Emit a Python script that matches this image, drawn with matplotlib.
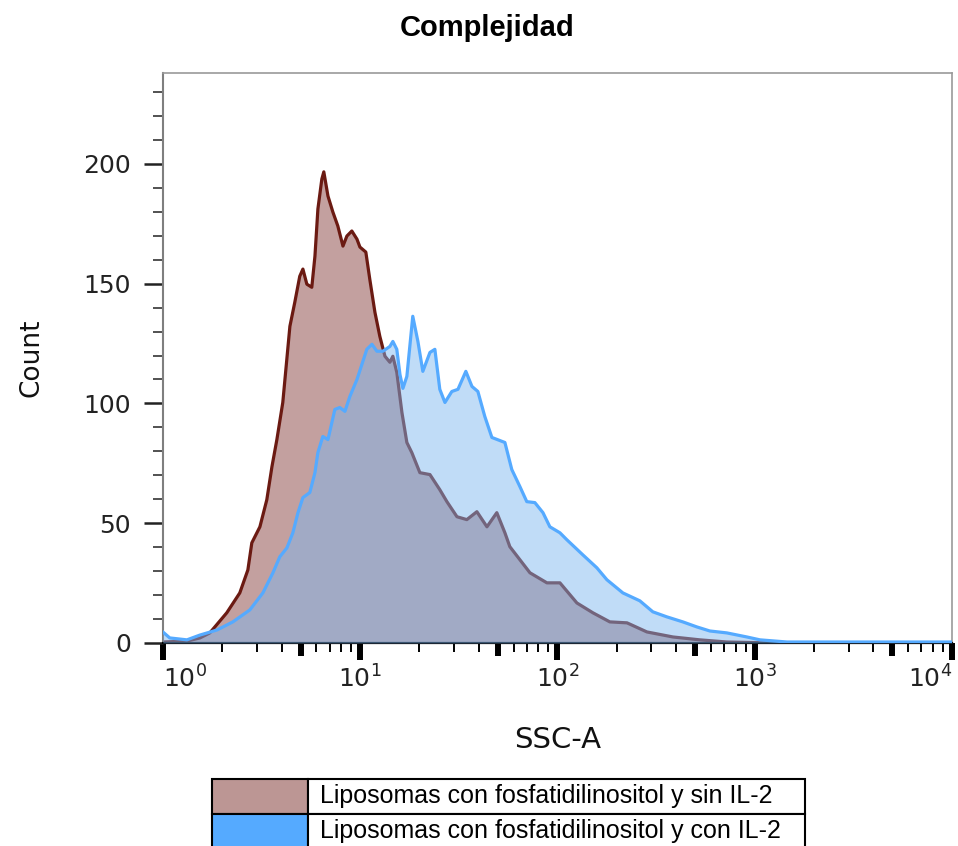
import numpy as np
import matplotlib.pyplot as plt
from matplotlib.ticker import LogLocator, MultipleLocator, NullFormatter, FixedLocator

title = "Complejidad"
labels = ["Liposomas con fosfatidilinositol y sin IL-2",
          "Liposomas con fosfatidilinositol y con IL-2"]

# SSC-A given in decades (log10), counts
log_ssc_sin = [0.000, 0.122, 0.188, 0.238, 0.324, 0.390, 0.431, 0.451, 0.492, 0.527,
               0.553, 0.578, 0.608, 0.644, 0.669, 0.694, 0.710, 0.730, 0.755, 0.771,
               0.786, 0.806, 0.816, 0.837, 0.862, 0.887, 0.913, 0.933, 0.958, 0.984,
               0.999, 1.029, 1.049, 1.075, 1.100, 1.126, 1.151, 1.166, 1.186, 1.212,
               1.237, 1.262, 1.303, 1.354, 1.404, 1.440, 1.491, 1.541, 1.592, 1.643,
               1.693, 1.734, 1.759, 1.861, 1.947, 2.013, 2.099, 2.180, 2.266, 2.353,
               2.454, 2.586, 2.722, 2.859, 3.093, 4.000]
count_sin = [0.4, 0.8, 2.1, 4.2, 12.6, 20.9, 30.5, 41.8, 48.5, 59.8,
             73.6, 84.9, 100.4, 132.2, 142.3, 153.1, 156.1, 149.8, 148.5, 161.5,
             181.2, 193.7, 196.7, 186.6, 179.9, 174.1, 165.7, 169.9, 172.0, 168.6,
             165.3, 163.2, 151.9, 138.1, 128.0, 119.7, 117.2, 119.7, 113.0, 96.2,
             83.7, 79.5, 71.1, 70.3, 64.0, 59.0, 52.7, 51.5, 54.8, 48.5,
             54.4, 46.0, 40.2, 29.3, 25.1, 25.1, 16.7, 12.6, 8.8, 8.4,
             4.6, 2.5, 1.3, 0.4, 0.0, 0.0]

log_ssc_con = [0.000, 0.035, 0.122, 0.188, 0.274, 0.355, 0.441, 0.507, 0.558, 0.593,
               0.629, 0.659, 0.685, 0.710, 0.745, 0.771, 0.786, 0.811, 0.837, 0.872,
               0.897, 0.923, 0.948, 0.984, 1.009, 1.034, 1.060, 1.085, 1.115, 1.151,
               1.166, 1.186, 1.202, 1.217, 1.237, 1.267, 1.293, 1.318, 1.354, 1.379,
               1.404, 1.430, 1.465, 1.496, 1.536, 1.567, 1.597, 1.632, 1.668, 1.734,
               1.769, 1.810, 1.845, 1.886, 1.927, 1.962, 2.013, 2.048, 2.129, 2.200,
               2.251, 2.332, 2.418, 2.484, 2.555, 2.636, 2.707, 2.773, 2.859, 2.961,
               3.027, 3.164, 3.432, 4.000]
count_con = [4.6, 2.1, 1.3, 3.3, 5.4, 8.8, 13.8, 20.9, 29.3, 36.0,
             39.7, 46.0, 54.4, 60.7, 62.8, 71.1, 79.5, 86.2, 84.9, 97.5,
             98.3, 96.7, 102.9, 110.0, 116.3, 122.6, 124.7, 121.8, 121.8, 123.8,
             125.9, 122.6, 112.1, 106.3, 111.3, 136.4, 125.9, 113.4, 121.3, 122.6,
             105.9, 100.4, 105.0, 105.9, 113.4, 107.1, 105.0, 94.6, 85.8, 83.7,
             72.4, 65.3, 59.0, 58.6, 54.4, 48.5, 46.0, 43.1, 36.8, 31.4,
             26.4, 20.9, 17.6, 13.0, 10.9, 8.8, 6.7, 5.0, 4.2, 2.5,
             1.3, 0.4, 0.4, 0.4]

decades = [0, 1, 2, 3, 4]

fill_sin = "#c3a09f"
line_sin = "#6b1a12"
fill_con = "#7cb6f0"
line_con = "#55aaff"
swatch_sin = "#bc9694"
swatch_con = "#55aaff"

fig = plt.figure(figsize=(9.58, 8.46), dpi=100)
ax = fig.add_axes([0.170, 0.240, 0.8236, 0.6738])

x_sin = 10 ** np.array(log_ssc_sin)
x_con = 10 ** np.array(log_ssc_con)
ax.fill_between(x_sin, count_sin, color=fill_sin, lw=0, zorder=1)
ax.plot(x_sin, count_sin, color=line_sin, lw=2.3, zorder=2)
ax.fill_between(x_con, count_con, color=fill_con, alpha=0.48, lw=0, zorder=3)
ax.plot(x_con, count_con, color=line_con, lw=2.3, zorder=4)

ax.set_xscale("log")
ax.set_xlim(1, 1e4)
ax.set_ylim(0, 238)

# x axis: decades, heavier ticks at 5x
ax.xaxis.set_major_locator(FixedLocator([10.0 ** d for d in decades]))
ax.set_xticklabels([f"$10^{{{d}}}$" for d in decades])
ax.xaxis.set_minor_locator(LogLocator(base=10, subs=np.arange(2, 10), numticks=20))
ax.xaxis.set_minor_formatter(NullFormatter())
ax.tick_params(axis="x", which="major", direction="out", length=12, width=4.3,
               color="black", labelsize=18, pad=4, labelcolor="#222222")
ax.tick_params(axis="x", which="minor", direction="out", length=6.5, width=1.4,
               color="black")
xlabs = ax.get_xticklabels()
xlabs[0].set_ha("left")
xlabs[-1].set_ha("right")

locs = ax.xaxis.get_minorticklocs()
for loc, tk in zip(locs, ax.xaxis.get_minor_ticks(len(locs))):
    mant = loc / 10 ** np.floor(np.log10(loc) + 1e-9)
    if abs(mant - 5) < 1e-6:
        tk.tick1line.set_markersize(9)
        tk.tick1line.set_markeredgewidth(4.3)

# y axis
ax.yaxis.set_major_locator(MultipleLocator(50))
ax.yaxis.set_minor_locator(MultipleLocator(10))
ax.tick_params(axis="y", which="major", direction="out", length=14, width=1.8,
               color="#222222", labelsize=18, pad=9, labelcolor="#222222")
ax.tick_params(axis="y", which="minor", direction="out", length=7, width=1.2,
               color="#333333")

for side in ["top", "right"]:
    ax.spines[side].set_color("#9a9a9a")
    ax.spines[side].set_linewidth(1.2)
ax.spines["left"].set_color("#7f7f7f")
ax.spines["left"].set_linewidth(1.5)
ax.spines["bottom"].set_color("black")
ax.spines["bottom"].set_linewidth(1.6)

ax.set_xlabel("SSC-A", fontsize=21, color="#111111")
ax.xaxis.set_label_coords(0.5, -0.145)
ax.set_ylabel("Count", fontsize=19, color="#111111")
ax.yaxis.set_label_coords(-0.150, 0.5)

fig.text(0.508, 0.967, title, ha="center", va="center", fontsize=21,
         fontweight="bold", family="Liberation Sans")

# legend drawn as a two-row table under the chart
lax = fig.add_axes([212 / 958, -2 / 846, 593 / 958, 69 / 846])
lax.axis("off")
tab = lax.table(cellText=[["", labels[0]], ["", labels[1]]],
                cellColours=[[swatch_sin, "white"], [swatch_con, "white"]],
                colWidths=[96 / 593, 497 / 593], cellLoc="left", bbox=[0, 0, 1, 1])
tab.auto_set_font_size(False)
tab.set_fontsize(18)
for (r, c), cell in tab.get_celld().items():
    cell.set_linewidth(1.5)
    cell.set_edgecolor("black")
    cell.PAD = 0.024
    cell.get_text().set_fontfamily("Liberation Sans")

fig.savefig("out.png", dpi=100)
